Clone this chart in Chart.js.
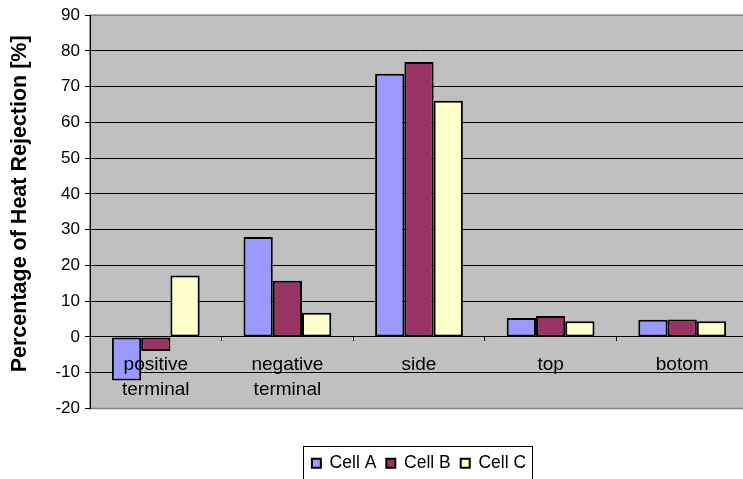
<!DOCTYPE html>
<html>
<head>
<meta charset="utf-8">
<script src="https://cdn.jsdelivr.net/npm/chart.js@4.4.1/dist/chart.umd.min.js"></script>
<style>
  html, body { margin: 0; padding: 0; background: #ffffff; overflow: hidden; }
  #wrap { width: 743px; height: 479px; overflow: hidden; }
  canvas { display: block; }
</style>
</head>
<body>
<div id="wrap"><canvas id="chart" width="748" height="482"></canvas></div>
<script>
// Heat rejection share per cell surface
const categories = [['positive', 'terminal'], ['negative', 'terminal'], 'side', 'top', 'botom'];
const cellA = [-12.2, 28.0, 73.6, 5.3, 4.8];
const cellB = [-3.9, 15.7, 76.9, 5.9, 4.9];
const cellC = [17.2, 6.8, 66.1, 4.4, 4.4];
const seriesNames = ['Cell A', 'Cell B', 'Cell C'];
const yTitle = 'Percentage of Heat Rejection [%]';
const yMin = -20, yMax = 90, yStep = 10;

const FONT = "'Liberation Sans', Arial, sans-serif";

// grey plot background plus its outline
const plotFrame = {
  id: 'plotFrame',
  beforeDraw(chart) {
    const { ctx, chartArea: a } = chart;
    ctx.save();
    ctx.fillStyle = '#c0c0c0';
    ctx.fillRect(a.left, a.top, a.right - a.left, a.bottom - a.top);
    ctx.strokeStyle = '#808080';
    ctx.lineWidth = 1.5;
    ctx.strokeRect(a.left, a.top, a.right - a.left, a.bottom - a.top);
    ctx.restore();
  }
};

// rotated value-axis caption, sitting a little above the plot's middle
const axisCaption = {
  id: 'axisCaption',
  afterDraw(chart) {
    const { ctx, chartArea: a } = chart;
    ctx.save();
    ctx.translate(20, (a.top + a.bottom) / 2 - 8);
    ctx.rotate(-Math.PI / 2);
    ctx.fillStyle = '#000';
    ctx.font = 'bold 21.5px ' + FONT;
    ctx.textAlign = 'center';
    ctx.textBaseline = 'middle';
    ctx.fillText(yTitle, 0, 0);
    ctx.restore();
  }
};

// black frame around the legend entries
const legendFrame = {
  id: 'legendFrame',
  afterDraw(chart) {
    const lg = chart.legend;
    if (!lg || !lg.legendHitBoxes || !lg.legendHitBoxes.length) return;
    const hb = lg.legendHitBoxes;
    const last = hb[hb.length - 1];
    const left = Math.round(hb[0].left - 9) + 0.5;
    const right = Math.round(last.left + last.width + 6) + 0.5;
    const top = Math.round(hb[0].top - 9) + 0.5;
    const { ctx } = chart;
    ctx.save();
    ctx.strokeStyle = '#000';
    ctx.lineWidth = 1;
    ctx.strokeRect(left, top, right - left, chart.height + 10 - top);
    ctx.restore();
  }
};

const colors = ['#9999ff', '#993366', '#ffffcc'];
const values = [cellA, cellB, cellC];

new Chart(document.getElementById('chart'), {
  type: 'bar',
  data: {
    labels: categories,
    datasets: values.map((v, i) => ({
      label: seriesNames[i],
      data: v,
      backgroundColor: colors[i],
      borderColor: '#000',
      borderWidth: 2,
      borderSkipped: false,
      categoryPercentage: 0.667,
      barPercentage: 1.0
    }))
  },
  options: {
    responsive: false,
    animation: false,
    layout: { padding: { left: 0, right: 0, top: 15, bottom: 0 } },
    plugins: {
      tooltip: { enabled: false },
      legend: {
        position: 'bottom',
        fullSize: false,
        labels: {
          boxWidth: 9,
          boxHeight: 9,
          padding: 10,
          color: '#000',
          font: { family: FONT, size: 17.5 }
        }
      }
    },
    scales: {
      x: {
        type: 'category',
        position: { y: 0 },
        offset: true,
        grid: {
          offset: true,
          drawOnChartArea: false,
          drawTicks: true,
          tickLength: 4,
          tickColor: '#000',
          color: '#000'
        },
        border: { display: true, color: '#000', width: 1, z: 1 },
        ticks: {
          z: 1,
          color: '#000',
          padding: 11,
          maxRotation: 0,
          autoSkip: false,
          font: { family: FONT, size: 19, lineHeight: 1.32 }
        }
      },
      gap: {
        type: 'category',
        position: 'bottom',
        display: true,
        grid: { display: false },
        border: { display: false },
        ticks: { display: false },
        afterFit(scale) { scale.height = 36; }
      },
      y: {
        min: yMin,
        max: yMax,
        afterFit(scale) { scale.width = 90; },
        ticks: {
          stepSize: yStep,
          color: '#000',
          padding: 5,
          font: { family: FONT, size: 17 }
        },
        grid: {
          color: (c) => (c.tick && (c.tick.value === yMax || c.tick.value === yMin)) ? 'rgba(0,0,0,0)' : '#000',
          tickColor: '#000',
          tickLength: 5,
          lineWidth: 1
        },
        border: { display: true, color: '#000', width: 1 },
        title: { display: false }
      }
    }
  },
  plugins: [plotFrame, axisCaption, legendFrame]
});
</script>
</body>
</html>
